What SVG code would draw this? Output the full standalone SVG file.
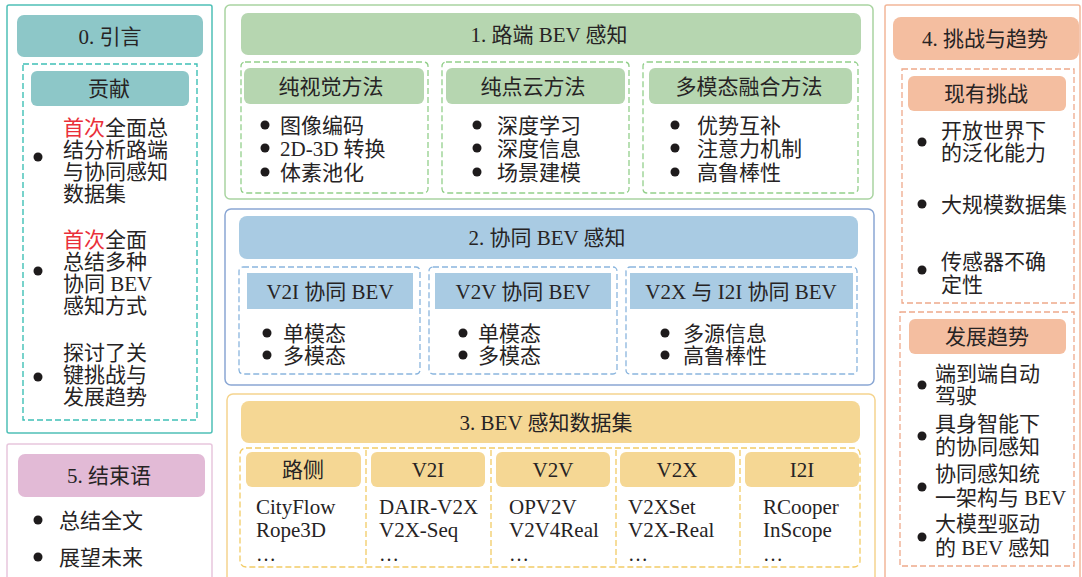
<svg xmlns="http://www.w3.org/2000/svg" width="1082" height="577" viewBox="0 0 1082 577">
<style>
text{font-family:'Liberation Serif','Noto Sans CJK SC',serif;font-size:21px;fill:#262324}
.m{text-anchor:middle}
.red{fill:#ea2f3a}
.dot{fill:#1e1b1c}
.o0{fill:#fff;stroke:#4fc0b7;stroke-width:1.5}
.h0{fill:#8dc7c8}
.d0{fill:none;stroke:#3fc0b6;stroke-width:1.4;stroke-dasharray:6 3}
.o1{fill:#fff;stroke:#a9d4a1;stroke-width:1.5}
.h1{fill:#b6d6b0}
.d1{fill:none;stroke:#93cf8b;stroke-width:1.3;stroke-dasharray:6 3}
.o2{fill:#fff;stroke:#8aa7d4;stroke-width:1.5}
.h2{fill:#a9cbe3}
.d2{fill:none;stroke:#8ab5de;stroke-width:1.3;stroke-dasharray:6 3}
.o3{fill:#fff;stroke:#f5d48e;stroke-width:1.5}
.h3{fill:#f5d794}
.d3{fill:none;stroke:#f2cb65;stroke-width:1.3;stroke-dasharray:6 3}
.o4{fill:#fff;stroke:#f2b799;stroke-width:1.5}
.h4{fill:#f4bea0}
.d4{fill:none;stroke:#eea98b;stroke-width:1.3;stroke-dasharray:6 3}
.o5{fill:#fff;stroke:#e8c6dd;stroke-width:1.5}
.h5{fill:#e2bad6}
.el{font-size:20px}
</style>
<rect width="1082" height="577" fill="#fff"/>

<g id="sec0">
<rect class="o0" x="7" y="5" width="205" height="428" rx="2"/>
<rect class="h0" x="17" y="15" width="186" height="42" rx="7"/>
<text class="m" x="110" y="43.5">0. 引言</text>
<rect class="d0" x="23" y="64" width="174" height="356"/>
<g id="contrib">
<rect class="h0" x="31" y="71" width="158" height="35" rx="6"/>
<text class="m" x="109" y="96">贡献</text>
<circle class="dot" cx="38" cy="157" r="4.5"/>
<text x="63" y="135"><tspan class="red">首次</tspan>全面总</text>
<text x="63" y="157">结分析路端</text>
<text x="63" y="179">与协同感知</text>
<text x="63" y="201">数据集</text>
<circle class="dot" cx="38" cy="271" r="4.5"/>
<text x="63" y="247"><tspan class="red">首次</tspan>全面</text>
<text x="63" y="269">总结多种</text>
<text x="63" y="291">协同 BEV</text>
<text x="63" y="313">感知方式</text>
<circle class="dot" cx="38" cy="377" r="4.5"/>
<text x="63" y="360">探讨了关</text>
<text x="63" y="382">键挑战与</text>
<text x="63" y="404">发展趋势</text>
</g>
</g>

<g id="sec5">
<rect class="o5" x="7" y="444" width="205" height="150" rx="2"/>
<rect class="h5" x="18" y="454" width="187" height="43" rx="7"/>
<text class="m" x="109" y="483">5. 结束语</text>
<circle class="dot" cx="38" cy="520" r="4.5"/>
<text x="59" y="527.5">总结全文</text>
<circle class="dot" cx="38" cy="557" r="4.5"/>
<text x="59" y="564.5">展望未来</text>
</g>

<g id="sec1">
<rect class="o1" x="225" y="5" width="648" height="194" rx="5"/>
<rect class="h1" x="241" y="13" width="620" height="42" rx="7"/>
<text class="m" x="549" y="41.5">1. 路端 BEV 感知</text>
<g id="vision">
<rect class="d1" x="241" y="62" width="187" height="131" rx="4"/>
<rect class="h1" x="244" y="68" width="180" height="36" rx="6"/>
<text class="m" x="331" y="93.5">纯视觉方法</text>
<circle class="dot" cx="265" cy="125" r="4.5"/>
<circle class="dot" cx="265" cy="148" r="4.5"/>
<circle class="dot" cx="265" cy="172" r="4.5"/>
<text x="280" y="132.5">图像编码</text>
<text x="280" y="155.5">2D-3D 转换</text>
<text x="280" y="179.5">体素池化</text>
</g>
<g id="lidar">
<rect class="d1" x="442" y="62" width="187" height="131" rx="4"/>
<rect class="h1" x="446" y="68" width="179" height="36" rx="6"/>
<text class="m" x="533" y="93.5">纯点云方法</text>
<circle class="dot" cx="477" cy="125" r="4.5"/>
<circle class="dot" cx="477" cy="148" r="4.5"/>
<circle class="dot" cx="477" cy="172" r="4.5"/>
<text x="497" y="132.5">深度学习</text>
<text x="497" y="155.5">深度信息</text>
<text x="497" y="179.5">场景建模</text>
</g>
<g id="fusion">
<rect class="d1" x="643" y="62" width="215" height="131" rx="4"/>
<rect class="h1" x="649" y="68" width="203" height="36" rx="6"/>
<text class="m" x="749" y="93.5">多模态融合方法</text>
<circle class="dot" cx="675" cy="125" r="4.5"/>
<circle class="dot" cx="675" cy="148" r="4.5"/>
<circle class="dot" cx="675" cy="172" r="4.5"/>
<text x="697" y="132.5">优势互补</text>
<text x="697" y="155.5">注意力机制</text>
<text x="697" y="179.5">高鲁棒性</text>
</g>
</g>

<g id="sec2">
<rect class="o2" x="225" y="209" width="649" height="176" rx="6"/>
<rect class="h2" x="239" y="216" width="619" height="43" rx="8"/>
<text class="m" x="547" y="244.5">2. 协同 BEV 感知</text>
<g id="v2i">
<rect class="d2" x="239" y="267" width="181" height="107" rx="4"/>
<rect class="h2" x="247" y="273" width="166" height="36"/>
<text class="m" x="330" y="298.5">V2I 协同 BEV</text>
<circle class="dot" cx="267" cy="333" r="4.5"/>
<circle class="dot" cx="267" cy="355" r="4.5"/>
<text x="283" y="340.5">单模态</text>
<text x="283" y="362.5">多模态</text>
</g>
<g id="v2v">
<rect class="d2" x="429" y="267" width="188" height="107" rx="4"/>
<rect class="h2" x="435" y="273" width="176" height="36"/>
<text class="m" x="523" y="298.5">V2V 协同 BEV</text>
<circle class="dot" cx="463" cy="333" r="4.5"/>
<circle class="dot" cx="463" cy="355" r="4.5"/>
<text x="478" y="340.5">单模态</text>
<text x="478" y="362.5">多模态</text>
</g>
<g id="v2x">
<rect class="d2" x="626" y="267" width="231" height="107" rx="4"/>
<rect class="h2" x="630" y="273" width="223" height="36"/>
<text class="m" x="741" y="298.5">V2X 与 I2I 协同 BEV</text>
<circle class="dot" cx="665" cy="333" r="4.5"/>
<circle class="dot" cx="665" cy="355" r="4.5"/>
<text x="683" y="340.5">多源信息</text>
<text x="683" y="362.5">高鲁棒性</text>
</g>
</g>

<g id="sec3">
<rect class="o3" x="227" y="394" width="648" height="200" rx="6"/>
<rect class="h3" x="241" y="401" width="619" height="42" rx="8"/>
<text class="m" x="546" y="429.5">3. BEV 感知数据集</text>
<rect class="d3" x="240" y="448" width="620" height="119" rx="6"/>
<g class="d3">
<line x1="366" y1="450" x2="366" y2="566"/>
<line x1="491" y1="450" x2="491" y2="566"/>
<line x1="616" y1="450" x2="616" y2="566"/>
<line x1="740" y1="450" x2="740" y2="566"/>
</g>
<g id="roadside">
<rect class="h3" x="246" y="452" width="115" height="35" rx="6"/>
<text class="m" x="303" y="477">路侧</text>
<text x="256" y="514">CityFlow</text>
<text x="256" y="537">Rope3D</text>
<text class="el" x="256" y="561">…</text>
</g>
<g id="ds-v2i">
<rect class="h3" x="371" y="452" width="114" height="35" rx="6"/>
<text class="m" x="428" y="477">V2I</text>
<text x="379" y="514">DAIR-V2X</text>
<text x="379" y="537">V2X-Seq</text>
<text class="el" x="379" y="561">…</text>
</g>
<g id="ds-v2v">
<rect class="h3" x="496" y="452" width="114" height="35" rx="6"/>
<text class="m" x="553" y="477">V2V</text>
<text x="509" y="514">OPV2V</text>
<text x="509" y="537">V2V4Real</text>
<text class="el" x="509" y="561">…</text>
</g>
<g id="ds-v2x">
<rect class="h3" x="620" y="452" width="115" height="35" rx="6"/>
<text class="m" x="677" y="477">V2X</text>
<text x="628" y="514">V2XSet</text>
<text x="628" y="537">V2X-Real</text>
<text class="el" x="628" y="561">…</text>
</g>
<g id="ds-i2i">
<rect class="h3" x="745" y="452" width="114" height="35" rx="6"/>
<text class="m" x="802" y="477">I2I</text>
<text x="763" y="514">RCooper</text>
<text x="763" y="537">InScope</text>
<text class="el" x="763" y="561">…</text>
</g>
</g>

<g id="sec4">
<rect class="o4" x="885" y="5" width="195" height="590" rx="2"/>
<rect class="h4" x="893" y="17" width="186" height="43" rx="8"/>
<text class="m" x="985" y="46">4. 挑战与趋势</text>
<g id="challenges">
<rect class="d4" x="902" y="69" width="172" height="234"/>
<rect class="h4" x="908" y="76" width="158" height="35" rx="6"/>
<text class="m" x="986" y="101">现有挑战</text>
<circle class="dot" cx="922" cy="142" r="4.5"/>
<text x="941" y="137.5">开放世界下</text>
<text x="941" y="159.5">的泛化能力</text>
<circle class="dot" cx="922" cy="204" r="4.5"/>
<text x="941" y="211.5">大规模数据集</text>
<circle class="dot" cx="922" cy="270" r="4.5"/>
<text x="941" y="269">传感器不确</text>
<text x="941" y="291.5">定性</text>
</g>
<g id="trends">
<rect class="d4" x="900" y="312" width="174" height="254"/>
<rect class="h4" x="909" y="319" width="157" height="35" rx="6"/>
<text class="m" x="987" y="344">发展趋势</text>
<circle class="dot" cx="922" cy="385" r="4.5"/>
<text x="935" y="380.5">端到端自动</text>
<text x="935" y="402.5">驾驶</text>
<circle class="dot" cx="922" cy="436" r="4.5"/>
<text x="935" y="430.5">具身智能下</text>
<text x="935" y="453.5">的协同感知</text>
<circle class="dot" cx="922" cy="487" r="4.5"/>
<text x="935" y="480.5">协同感知统</text>
<text x="935" y="504.5">一架构与 BEV</text>
<circle class="dot" cx="922" cy="537" r="4.5"/>
<text x="935" y="530.5">大模型驱动</text>
<text x="935" y="554.5">的 BEV 感知</text>
</g>
</g>
</svg>
